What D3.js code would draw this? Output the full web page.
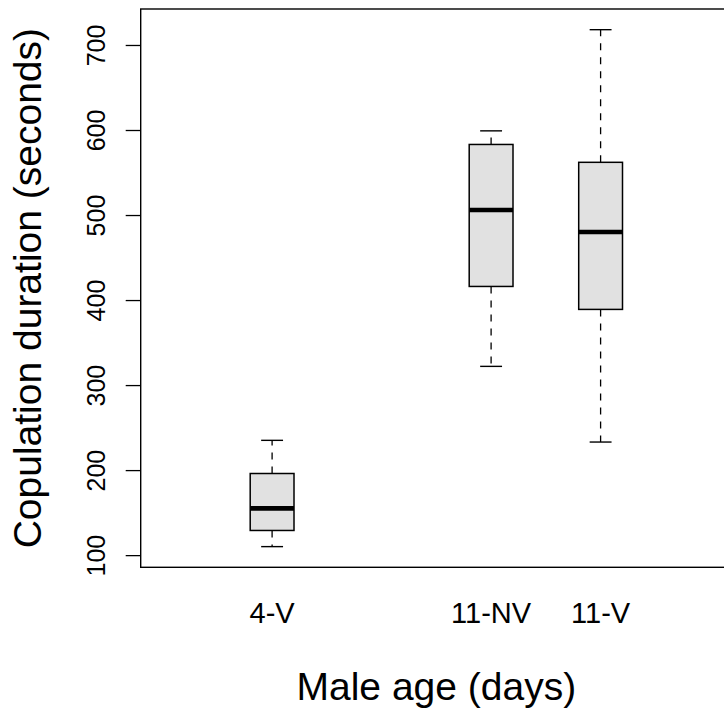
<html>
<head>
<meta charset="utf-8">
<style>
  body { margin: 0; background: #fff; }
  text { font-family: "Liberation Sans", Arial, sans-serif; fill: #000; }
</style>
<script src="https://cdn.jsdelivr.net/npm/d3@7"></script>
</head>
<body>
<div id="chartContainer"></div>
<script>
// box statistics
var groups = ["4-V", "11-NV", "11-V"];
var positions = [1, 3, 4];
var lowerWhisker = [110, 322, 233];
var q1 = [129, 416, 389];
var median = [155, 506, 480];
var q3 = [196, 583, 562];
var upperWhisker = [235, 599, 718];
var yTicks = [100, 200, 300, 400, 500, 600, 700];

var W = 724, H = 708;
var svg = d3.select("#chartContainer").append("svg")
  .attr("width", W).attr("height", H);

// plot region (right edge runs off the page like the original)
var plotL = 140.7, plotR = 732, plotT = 9, plotB = 567.3;

// R style range: data range padded by 4%
var lo = d3.min(lowerWhisker), hi = d3.max(upperWhisker);
var pad = (hi - lo) * 0.04;
var y = d3.scaleLinear().domain([lo - pad, hi + pad]).range([plotB, plotT]);
var x = d3.scaleLinear().domain([-0.2, 5.2]).range([plotL, plotR]);

var boxW = 0.4, capW = 0.2;

var data = groups.map(function (g, i) {
  return { name: g, pos: positions[i], lw: lowerWhisker[i], q1: q1[i],
           med: median[i], q3: q3[i], uw: upperWhisker[i] };
});

var boxes = svg.selectAll("g.box").data(data).enter().append("g").attr("class", "box");

// whiskers (dashed)
boxes.append("line")
  .attr("x1", function (d) { return x(d.pos); }).attr("x2", function (d) { return x(d.pos); })
  .attr("y1", function (d) { return y(d.q3); }).attr("y2", function (d) { return y(d.uw); })
  .attr("stroke", "#000").attr("stroke-width", 1.3).attr("stroke-dasharray", "7,7");
boxes.append("line")
  .attr("x1", function (d) { return x(d.pos); }).attr("x2", function (d) { return x(d.pos); })
  .attr("y1", function (d) { return y(d.q1); }).attr("y2", function (d) { return y(d.lw); })
  .attr("stroke", "#000").attr("stroke-width", 1.3).attr("stroke-dasharray", "7,7");

// staples
["uw", "lw"].forEach(function (k) {
  boxes.append("line")
    .attr("x1", function (d) { return x(d.pos - capW / 2); })
    .attr("x2", function (d) { return x(d.pos + capW / 2); })
    .attr("y1", function (d) { return y(d[k]); }).attr("y2", function (d) { return y(d[k]); })
    .attr("stroke", "#000").attr("stroke-width", 1.4);
});

// box
boxes.append("rect")
  .attr("x", function (d) { return x(d.pos - boxW / 2); })
  .attr("width", function (d) { return x(d.pos + boxW / 2) - x(d.pos - boxW / 2); })
  .attr("y", function (d) { return y(d.q3); })
  .attr("height", function (d) { return y(d.q1) - y(d.q3); })
  .attr("fill", "#e1e1e1").attr("stroke", "#000").attr("stroke-width", 1.5);

// median
boxes.append("line")
  .attr("x1", function (d) { return x(d.pos - boxW / 2); })
  .attr("x2", function (d) { return x(d.pos + boxW / 2); })
  .attr("y1", function (d) { return y(d.med); }).attr("y2", function (d) { return y(d.med); })
  .attr("stroke", "#000").attr("stroke-width", 4.6);

// frame
svg.append("rect")
  .attr("x", plotL).attr("y", plotT)
  .attr("width", plotR - plotL).attr("height", plotB - plotT)
  .attr("fill", "none").attr("stroke", "#000").attr("stroke-width", 1.4);

// y axis
var yAxis = svg.append("g")
  .attr("transform", "translate(" + plotL + ",0)")
  .call(d3.axisLeft(y).tickValues(yTicks).tickSize(15).tickFormat(d3.format("d")));
yAxis.select(".domain").remove();
yAxis.selectAll(".tick line").attr("stroke", "#000").attr("stroke-width", 1.3);
yAxis.selectAll(".tick text")
  .attr("x", null).attr("dy", null)
  .attr("transform", "translate(" + (105 - plotL) + ",0) rotate(-90)")
  .attr("text-anchor", "middle")
  .attr("fill", "#000")
  .style("font-size", "25px")
  .style("font-family", "'Liberation Sans', Arial, sans-serif");

// category labels
svg.selectAll("text.cat").data(data).enter().append("text")
  .attr("class", "cat")
  .attr("x", function (d) { return x(d.pos); })
  .attr("y", 623)
  .attr("text-anchor", "middle")
  .style("font-size", "29px")
  .text(function (d) { return d.name; });

// axis titles
svg.append("text")
  .attr("x", (plotL + plotR) / 2).attr("y", 700)
  .attr("text-anchor", "middle")
  .style("font-size", "39px")
  .text("Male age (days)");

svg.append("text")
  .attr("transform", "translate(41," + (plotT + plotB) / 2 + ") rotate(-90)")
  .attr("text-anchor", "middle")
  .style("font-size", "39px")
  .text("Copulation duration (seconds)");
</script>
</body>
</html>
